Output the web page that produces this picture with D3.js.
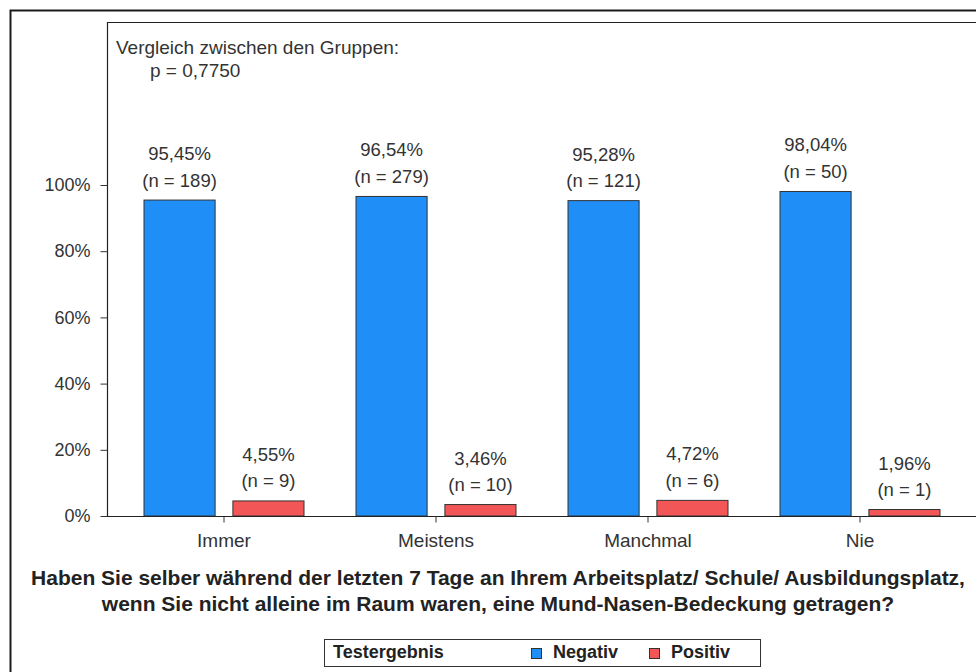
<!DOCTYPE html>
<html>
<head>
<meta charset="utf-8">
<script src="https://cdn.jsdelivr.net/npm/d3@7"></script>
<style>
  body { margin: 0; background: #fff; }
  text { font-family: "Liberation Sans", Arial, sans-serif; fill: #333; }
</style>
</head>
<body>
<script>
// chart data
var categories = ["Immer", "Meistens", "Manchmal", "Nie"];
var groups = ["Negativ", "Positiv"];
var negPct = [95.45, 96.54, 95.28, 98.04];
var negN = [189, 279, 121, 50];
var posPct = [4.55, 3.46, 4.72, 1.96];
var posN = [9, 10, 6, 1];
var yTicks = [0, 20, 40, 60, 80, 100];
var colors = { "Negativ": "#1f8ff7", "Positiv": "#f25656" };

var width = 976, height = 672;

var svg = d3.select("body").append("svg")
    .attr("width", width)
    .attr("height", height);

// outer frame
svg.append("rect")
    .attr("x", 10.5).attr("y", 10.5)
    .attr("width", 1000).attr("height", 700)
    .attr("fill", "none").attr("stroke", "#1a1a1a").attr("stroke-width", 2);

var y = d3.scaleLinear().domain([0, 100]).range([516, 185]);

var x = d3.scaleBand().domain(categories).range([118, 118 + 4 * 212]);
var xs = d3.scaleBand().domain(groups).range([26, 186]).paddingInner(0.2);

// plot frame (left + top)
svg.append("path")
    .attr("d", "M107.5,516V22.5H990")
    .attr("fill", "none").attr("stroke", "#222").attr("stroke-width", 1.2);

// y axis
var yAxis = svg.append("g")
    .attr("transform", "translate(107.5,0)")
    .call(d3.axisLeft(y).tickValues(yTicks).tickFormat(function(d) { return d + "%"; })
          .tickSize(7).tickPadding(10));
yAxis.select(".domain").remove();
yAxis.selectAll("line").attr("stroke", "#333");
yAxis.selectAll("text").attr("font-size", 18).attr("fill", "#333")
    .attr("font-family", "Liberation Sans, Arial, sans-serif");

// bars
var rows = categories.map(function(c, i) {
  return { cat: c, vals: [
    { g: "Negativ", p: negPct[i], n: negN[i] },
    { g: "Positiv", p: posPct[i], n: posN[i] }
  ]};
});

var cat = svg.append("g").selectAll("g")
    .data(rows).enter().append("g")
    .attr("transform", function(d) { return "translate(" + x(d.cat) + ",0)"; });

cat.selectAll("rect")
    .data(function(d) { return d.vals; })
    .enter().append("rect")
    .attr("x", function(d) { return xs(d.g); })
    .attr("y", function(d) { return y(d.p); })
    .attr("width", xs.bandwidth())
    .attr("height", function(d) { return y(0) - y(d.p); })
    .attr("fill", function(d) { return colors[d.g]; })
    .attr("stroke", "#333").attr("stroke-width", 1);

var lbl = cat.selectAll("g.lbl")
    .data(function(d) { return d.vals; })
    .enter().append("g").attr("class", "lbl");

lbl.append("text")
    .attr("x", function(d) { return xs(d.g) + xs.bandwidth() / 2; })
    .attr("y", function(d) { return y(d.p) - 40; })
    .attr("text-anchor", "middle").attr("font-size", 18.5)
    .text(function(d) { return d3.format(".2f")(d.p).replace(".", ",") + "%"; });

lbl.append("text")
    .attr("x", function(d) { return xs(d.g) + xs.bandwidth() / 2; })
    .attr("y", function(d) { return y(d.p) - 13.5; })
    .attr("text-anchor", "middle").attr("font-size", 18.5)
    .text(function(d) { return "(n = " + d.n + ")"; });

// x axis
svg.append("line")
    .attr("x1", 107).attr("x2", 990)
    .attr("y1", 516.5).attr("y2", 516.5)
    .attr("stroke", "#222").attr("stroke-width", 1.2);

var xAxis = svg.append("g")
    .attr("transform", "translate(0,516.5)")
    .call(d3.axisBottom(x).tickSize(6).tickPadding(11));
xAxis.select(".domain").remove();
xAxis.selectAll("line").attr("stroke", "#333");
xAxis.selectAll("text").attr("font-size", 19).attr("fill", "#333")
    .attr("font-family", "Liberation Sans, Arial, sans-serif");

// comparison note
svg.append("text").attr("x", 116).attr("y", 54).attr("font-size", 19)
    .text("Vergleich zwischen den Gruppen:");
svg.append("text").attr("x", 150).attr("y", 77).attr("font-size", 19)
    .text("p = 0,7750");

// title
var title = svg.append("text").attr("text-anchor", "middle")
    .attr("font-size", 21).attr("font-weight", "bold").style("fill", "#222");
title.append("tspan").attr("x", 498).attr("y", 585)
    .text("Haben Sie selber während der letzten 7 Tage an Ihrem Arbeitsplatz/ Schule/ Ausbildungsplatz,");
title.append("tspan").attr("x", 498).attr("y", 611)
    .text("wenn Sie nicht alleine im Raum waren, eine Mund-Nasen-Bedeckung getragen?");

// legend
var leg = svg.append("g");
leg.append("rect").attr("x", 324.5).attr("y", 639.5).attr("width", 436).attr("height", 27)
    .attr("fill", "#fff").attr("stroke", "#333").attr("stroke-width", 1);
leg.append("text").attr("x", 333).attr("y", 658).attr("font-size", 18).attr("font-weight", "bold")
    .style("fill", "#222").text("Testergebnis");
var legX = { "Negativ": 531, "Positiv": 649 };
groups.forEach(function(g) {
  leg.append("rect").attr("x", legX[g] + 0.5).attr("y", 648.5).attr("width", 10).attr("height", 10)
      .attr("fill", colors[g]).attr("stroke", "#333").attr("stroke-width", 1);
  leg.append("text").attr("x", legX[g] + 22).attr("y", 658).attr("font-size", 18).attr("font-weight", "bold")
      .style("fill", "#222").text(g);
});
</script>
</body>
</html>
